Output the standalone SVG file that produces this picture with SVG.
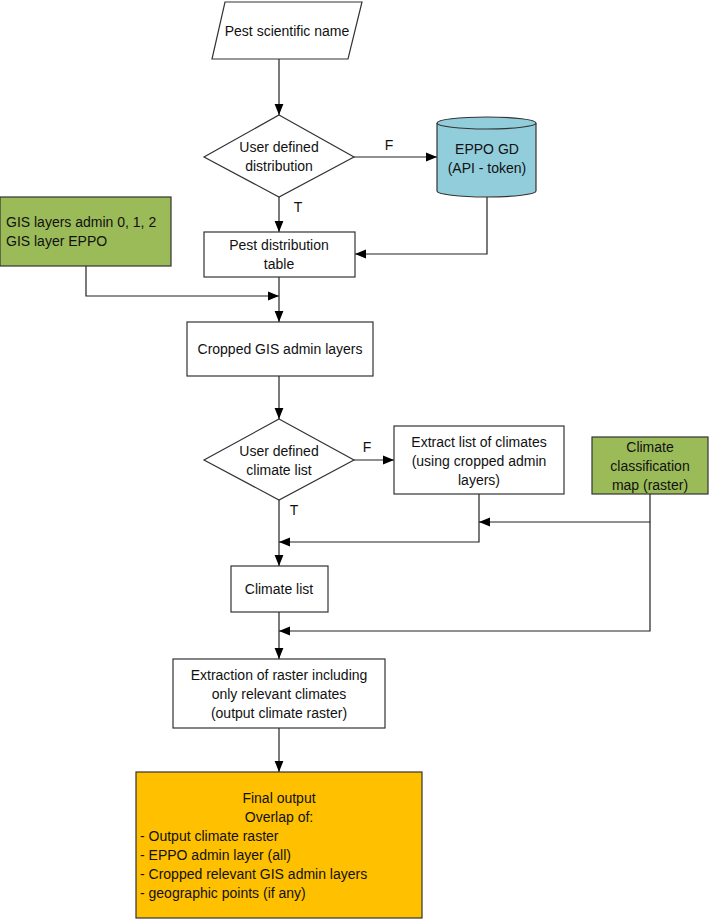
<svg xmlns="http://www.w3.org/2000/svg" width="709" height="920" viewBox="0 0 709 920">
<style>
.s{stroke:#333;stroke-width:1.2;}
.w{fill:#fff;}
.t{font-family:"Liberation Sans",Arial,sans-serif;font-size:14px;fill:#111;text-anchor:middle;}
.l{text-anchor:start;}
.c{fill:none;stroke:#222;stroke-width:1.2;}
</style>
<defs>
<marker id="a" viewBox="0 0 10 10" refX="10" refY="5" markerWidth="11" markerHeight="11" markerUnits="userSpaceOnUse" orient="auto">
<path d="M0,1 L10,5 L0,9 Z" fill="#000"/>
</marker>
</defs>
<rect width="709" height="920" fill="#fff"/>
<g id="connectors">
<path class="c" d="M279,59 V115" marker-end="url(#a)"/>
<path class="c" d="M354,157 H437" marker-end="url(#a)"/>
<path class="c" d="M279,197 V232" marker-end="url(#a)"/>
<path class="c" d="M487,197 V254 H355" marker-end="url(#a)"/>
<path class="c" d="M86,266 V296 H279" marker-end="url(#a)"/>
<path class="c" d="M279,277 V322" marker-end="url(#a)"/>
<path class="c" d="M279,376 V419" marker-end="url(#a)"/>
<path class="c" d="M354,460 H394" marker-end="url(#a)"/>
<path class="c" d="M279,500 V566" marker-end="url(#a)"/>
<path class="c" d="M479,494 V542 H279" marker-end="url(#a)"/>
<path class="c" d="M650,494 V522 H479" marker-end="url(#a)"/>
<path class="c" d="M650,522 V631 H279" marker-end="url(#a)"/>
<path class="c" d="M279,612 V659" marker-end="url(#a)"/>
<path class="c" d="M279,728 V772" marker-end="url(#a)"/>
<text class="t" x="389" y="150">F</text>
<text class="t" x="298" y="212">T</text>
<text class="t" x="367" y="452">F</text>
<text class="t" x="294" y="515">T</text>
</g>
<g id="pest-name">
<path class="s w" d="M225,2 H362 L348,59 H212 Z"/>
<text class="t" x="287" y="36">Pest scientific name</text>
</g>
<g id="decision-distribution">
<path class="s w" d="M279,115 L354,157 L279,197 L204,157 Z"/>
<text class="t" x="279" y="152">User defined</text>
<text class="t" x="279" y="171">distribution</text>
</g>
<g id="eppo-gd">
<path class="s" fill="#92CDDC" d="M437,123 V191 A49.5,6 0 0 0 536,191 V123"/>
<ellipse class="s" fill="#92CDDC" cx="486.5" cy="123" rx="49.5" ry="6"/>
<text class="t" x="487" y="154">EPPO GD</text>
<text class="t" x="487" y="173">(API - token)</text>
</g>
<g id="gis-layers">
<rect class="s" fill="#9BBB59" x="0" y="197" width="171" height="69"/>
<text class="t l" x="6" y="227">GIS layers admin 0, 1, 2</text>
<text class="t l" x="6" y="246">GIS layer EPPO</text>
</g>
<g id="pest-table">
<rect class="s w" x="204" y="232" width="151" height="45"/>
<text class="t" x="279" y="250">Pest distribution</text>
<text class="t" x="279" y="269">table</text>
</g>
<g id="cropped">
<rect class="s w" x="187" y="322" width="186" height="54"/>
<text class="t" x="280" y="354">Cropped GIS admin layers</text>
</g>
<g id="decision-climate">
<path class="s w" d="M279,419 L354,460 L279,500 L204,460 Z"/>
<text class="t" x="279" y="456">User defined</text>
<text class="t" x="279" y="475">climate list</text>
</g>
<g id="extract-climates">
<rect class="s w" x="394" y="426" width="170" height="68"/>
<text class="t" x="479" y="447">Extract list of climates</text>
<text class="t" x="479" y="466">(using cropped admin</text>
<text class="t" x="479" y="485">layers)</text>
</g>
<g id="climate-map">
<rect class="s" fill="#9BBB59" x="592" y="437" width="116" height="57"/>
<text class="t" x="650" y="452">Climate</text>
<text class="t" x="650" y="471">classification</text>
<text class="t" x="650" y="490">map (raster)</text>
</g>
<g id="climate-list">
<rect class="s w" x="231" y="566" width="97" height="46"/>
<text class="t" x="279" y="594">Climate list</text>
</g>
<g id="extraction">
<rect class="s w" x="173" y="659" width="212" height="69"/>
<text class="t" x="279" y="680">Extraction of raster including</text>
<text class="t" x="279" y="699">only relevant climates</text>
<text class="t" x="279" y="718">(output climate raster)</text>
</g>
<g id="final-output">
<rect class="s" fill="#FFC000" x="136" y="772" width="286" height="146"/>
<text class="t" x="279" y="803">Final output</text>
<text class="t" x="279" y="822">Overlap of:</text>
<text class="t l" x="140" y="841">- Output climate raster</text>
<text class="t l" x="140" y="860">- EPPO admin layer (all)</text>
<text class="t l" x="140" y="879">- Cropped relevant GIS admin layers</text>
<text class="t l" x="140" y="898">- geographic points (if any)</text>
</g>
</svg>
